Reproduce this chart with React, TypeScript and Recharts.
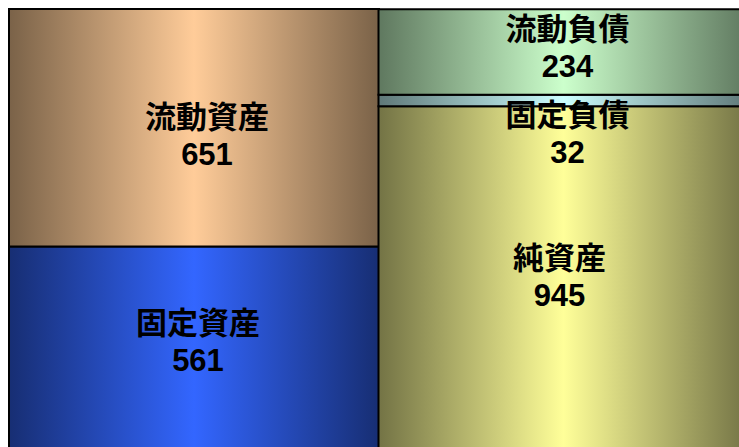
import { Bar, BarChart, LabelList, XAxis, YAxis } from "recharts";

const sides = ["資産", "負債・純資産"];
const koteiShisan = [561, undefined];
const ryudoShisan = [651, undefined];
const junShisan = [undefined, 945];
const koteiFusai = [undefined, 32];
const ryudoFusai = [undefined, 234];

const data = sides.map((side, i) => ({
  side,
  固定資産: koteiShisan[i],
  流動資産: ryudoShisan[i],
  純資産: junShisan[i],
  固定負債: koteiFusai[i],
  流動負債: ryudoFusai[i],
}));

type SeriesStyle = { key: string; id: string; center: string; edge: string; dx: number; dy: number };

const series: SeriesStyle[] = [
  { key: "固定資産", id: "gKS", center: "#3366ff", edge: "#172e73", dx: 4, dy: -25 },
  { key: "流動資産", id: "gRS", center: "#ffcc99", edge: "#7a6248", dx: 13, dy: -10 },
  { key: "純資産", id: "gJS", center: "#ffff99", edge: "#737345", dx: -4, dy: -20 },
  { key: "固定負債", id: "gKF", center: "#ccffff", edge: "#5f7878", dx: 4, dy: 15 },
  { key: "流動負債", id: "gRF", center: "#ccffcc", edge: "#5f785f", dx: 4, dy: -23 },
];

const font = "'Liberation Sans', Arial, 'Noto Sans CJK JP', sans-serif";

const makeLabel = (s: SeriesStyle) => (props: any) => {
  const { x, y, width, height, value } = props;
  if (value === undefined || value === null) return null;
  const cx = Number(x) + Number(width) / 2 + s.dx;
  const cy = Number(y) + Number(height) / 2 + s.dy;
  return (
    <g>
      <text x={cx} y={cy} textAnchor="middle" dominantBaseline="central" fontSize={31} fontWeight="bold" fontFamily={font} fill="#000">
        {s.key}
      </text>
      <text x={cx} y={cy + 37} textAnchor="middle" dominantBaseline="central" fontSize={31} fontWeight="bold" fontFamily={font} fill="#000">
        {value}
      </text>
    </g>
  );
};

export default function App() {
  return (
    <div style={{ position: "absolute", left: 8, top: 8, width: 731, height: 439, overflow: "hidden" }}>
      <BarChart width={740} height={444} data={data} margin={{ top: 1, right: 0, bottom: 1, left: 1 }} barCategoryGap={0} barGap={0}>
        <defs>
          {series.map((s) => (
            <linearGradient key={s.id} id={s.id} x1="0" y1="0" x2="1" y2="0">
              <stop offset="0%" stopColor={s.edge} />
              <stop offset="50%" stopColor={s.center} />
              <stop offset="100%" stopColor={s.edge} />
            </linearGradient>
          ))}
        </defs>
        <XAxis dataKey="side" hide />
        <YAxis hide domain={[0, 1212]} />
        {series.map((s) => (
          <Bar key={s.key} dataKey={s.key} stackId="bs" fill={`url(#${s.id})`} stroke="#000" strokeWidth={2} isAnimationActive={false}>
            <LabelList dataKey={s.key} content={makeLabel(s)} />
          </Bar>
        ))}
      </BarChart>
    </div>
  );
}
